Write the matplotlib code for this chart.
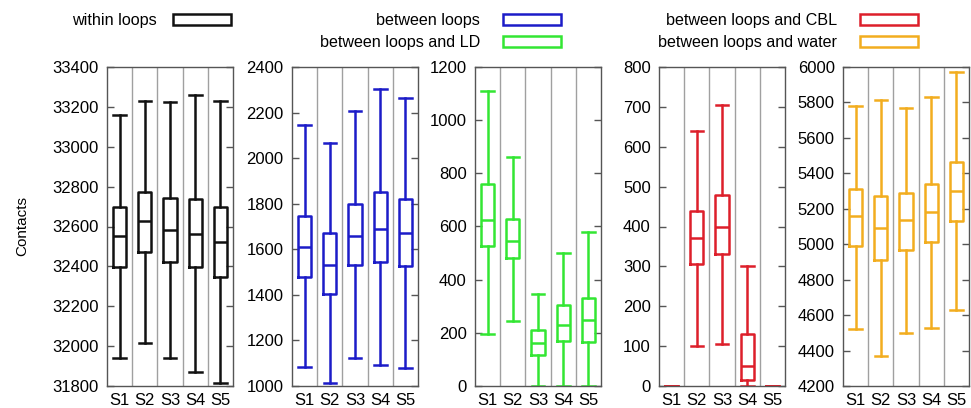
import matplotlib
matplotlib.use('Agg')
import matplotlib.pyplot as plt
from matplotlib.patches import Rectangle

plt.rcParams['font.family'] = ['Liberation Sans', 'DejaVu Sans']

cats = ['S1', 'S2', 'S3', 'S4', 'S5']

# whisker low, Q1, median, Q3, whisker high for S1..S5
within_loops = [
    [31940, 32395, 32550, 32700, 33160],
    [32015, 32470, 32630, 32775, 33230],
    [31940, 32420, 32580, 32745, 33225],
    [31870, 32395, 32560, 32740, 33260],
    [31815, 32345, 32520, 32700, 33230],
]
between_loops = [
    [1085, 1480, 1610, 1745, 2145],
    [1015, 1405, 1530, 1670, 2065],
    [1125, 1530, 1660, 1800, 2205],
    [1090, 1545, 1690, 1850, 2305],
    [1080, 1525, 1670, 1820, 2265],
]
between_ld = [
    [195, 525, 625, 760, 1110],
    [245, 480, 545, 630, 860],
    [0, 115, 160, 210, 345],
    [0, 170, 230, 305, 500],
    [0, 165, 250, 330, 580],
]
between_cbl = [
    [0, 0, 0, 0, 0],
    [100, 305, 370, 440, 640],
    [105, 330, 400, 480, 705],
    [0, 15, 50, 130, 300],
    [0, 0, 0, 0, 0],
]
between_water = [
    [4520, 4990, 5160, 5310, 5780],
    [4370, 4910, 5090, 5270, 5815],
    [4500, 4970, 5135, 5290, 5770],
    [4530, 5015, 5180, 5340, 5830],
    [4630, 5130, 5300, 5465, 5970],
]

panels = [
    (within_loops, '#111111', (31800, 33400), 200),
    (between_loops, '#1c1cc8', (1000, 2400), 200),
    (between_ld, '#33e633', (0, 1200), 200),
    (between_cbl, '#dd1f2a', (0, 800), 100),
    (between_water, '#f2ad1f', (4200, 6000), 200),
]

lefts = [107, 292, 475, 659, 843]
W, H = 971, 408

fig = plt.figure(figsize=(W / 100, H / 100), dpi=100)

for (data, col, ylim, step), lx in zip(panels, lefts):
    ax = fig.add_axes([lx / W, 1 - 386 / H, 126 / W, (386 - 67) / H])
    stats = [dict(whislo=d[0], q1=d[1], med=d[2], q3=d[3], whishi=d[4], fliers=[])
             for d in data]
    for xs in [1.5, 2.5, 3.5, 4.5]:
        ax.axvline(xs, color='#a0a0a0', lw=1.0, zorder=0)
    lp = dict(color=col, linewidth=1.8)
    ax.bxp(stats, positions=range(1, 6), widths=0.52, capwidths=0.5,
           showfliers=False, boxprops=lp, whiskerprops=lp, capprops=lp,
           medianprops=lp)
    ax.set_xlim(0.5, 5.5)
    ax.set_ylim(*ylim)
    ax.set_yticks(range(ylim[0], ylim[1] + 1, step))
    ax.set_xticks(range(1, 6))
    ax.set_xticklabels(cats)
    ax.tick_params(axis='y', direction='in', right=True, length=5, width=1,
                   color='#555555', labelsize=12, pad=6)
    ax.tick_params(axis='x', length=0, labelsize=12, pad=5)
    for s in ax.spines.values():
        s.set_color('#555555')
        s.set_linewidth(1.0)

fig.text(22 / W, 1 - 226 / H, 'Contacts', rotation=90, ha='center', va='center',
         fontsize=11)

legend_items = [
    ('within loops', '#111111', 157, 20, 173),
    ('between loops', '#1c1cc8', 480, 20, 503),
    ('between loops and LD', '#33e633', 480, 42, 503),
    ('between loops and CBL', '#dd1f2a', 837, 20, 860),
    ('between loops and water', '#f2ad1f', 837, 42, 860),
]
for label, col, tx, ty, bx in legend_items:
    fig.text(tx / W, 1 - ty / H, label, ha='right', va='center', fontsize=11.6)
    fig.add_artist(Rectangle((bx / W, 1 - (ty + 5) / H), 58 / W, 11 / H,
                             transform=fig.transFigure, fill=False,
                             edgecolor=col, linewidth=1.8))

fig.savefig('out.png', dpi=100)
